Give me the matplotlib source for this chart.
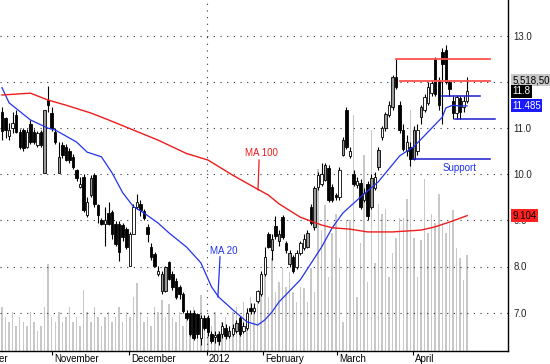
import matplotlib
matplotlib.use("Agg")
import matplotlib.pyplot as plt
from matplotlib.transforms import blended_transform_factory as blend

plt.rcParams['font.family'] = ['Liberation Sans', 'DejaVu Sans']

# daily bars, mid Oct 2011 .. mid Apr 2012 (index = trading day)
opens = [11.35, 11.22, 10.82, 11.00, 11.29, 10.92, 10.96, 10.60, 11.10, 10.92,
         10.63, 10.92, 10.02, 11.61, 11.33, 10.92, 10.02, 10.63, 10.60, 10.50,
         10.38, 10.09, 9.73, 9.94, 9.11, 9.55, 9.98, 9.33, 9.01, 8.93,
         9.15, 9.18, 8.93, 8.93, 8.90, 8.82, 8.02, 8.71, 9.29, 9.36,
         9.20, 8.85, 8.42, 8.28, 7.84, 7.47, 7.47, 8.09, 7.84, 7.69,
         7.55, 7.40, 7.00, 7.00, 7.00, 6.96, 6.45, 6.89, 6.89, 6.53,
         6.47, 6.53, 6.53, 6.67, 6.50, 6.53, 6.60, 6.89, 6.60, 6.67,
         7.11, 7.04, 7.25, 7.40, 7.84, 8.71, 8.35, 8.88, 8.55, 9.08,
         8.50, 8.05, 8.20, 8.00, 8.30, 8.40, 8.42, 9.29, 8.86, 9.72,
         9.80, 9.88, 10.14, 9.72, 9.55, 9.50, 10.42, 11.40, 10.40, 10.00,
         9.77, 9.81, 9.44, 9.80, 9.30, 9.70, 10.16, 10.80, 11.00, 11.29,
         11.46, 12.10, 11.50, 10.96, 10.50, 10.60, 10.33, 10.50, 11.24, 11.40,
         11.55, 11.76, 12.50, 12.05, 12.65, 12.70, 12.00, 11.60, 11.33, 11.65,
         11.45, 11.60]
highs = [11.45, 11.25, 11.11, 11.36, 11.40, 10.98, 11.00, 10.98, 11.18, 10.98,
         10.95, 10.96, 11.40, 11.91, 11.45, 11.00, 10.71, 10.70, 10.65, 10.58,
         10.45, 10.12, 9.95, 10.00, 9.50, 9.98, 10.02, 9.36, 9.05, 9.29,
         9.40, 9.22, 8.98, 8.98, 8.95, 8.85, 8.75, 9.35, 9.58, 9.45,
         9.25, 8.93, 8.50, 8.31, 8.02, 7.90, 8.02, 8.13, 7.90, 7.75,
         7.60, 7.45, 7.05, 7.05, 7.05, 7.00, 6.95, 6.95, 6.95, 6.60,
         6.60, 6.60, 6.80, 6.75, 6.70, 6.75, 6.85, 6.92, 6.80, 7.10,
         7.20, 7.20, 7.50, 7.90, 8.42, 8.75, 8.70, 9.10, 8.80, 9.12,
         8.55, 8.35, 8.25, 8.35, 8.55, 8.70, 8.80, 9.35, 9.75, 10.05,
         10.25, 10.25, 10.20, 9.80, 9.60, 10.15, 10.80, 11.45, 10.60, 10.10,
         9.95, 9.90, 9.70, 9.85, 10.00, 10.05, 10.60, 11.05, 11.35, 11.60,
         12.15, 12.50, 11.60, 11.10, 10.85, 10.70, 11.05, 11.10, 11.50, 11.75,
         12.00, 12.05, 12.55, 12.10, 12.75, 12.80, 12.05, 11.70, 11.72, 11.70,
         11.70, 12.10]
lows = [10.75, 10.78, 10.74, 10.89, 10.89, 10.55, 10.50, 10.56, 10.65, 10.65,
        10.60, 10.60, 10.02, 11.35, 10.95, 10.65, 10.02, 10.35, 10.28, 10.25,
        10.12, 9.85, 9.70, 9.18, 9.08, 9.50, 9.30, 8.95, 8.90, 8.45,
        8.90, 8.60, 8.45, 8.13, 8.55, 8.38, 8.02, 8.70, 9.25, 9.10,
        9.00, 8.53, 8.15, 7.98, 7.80, 7.40, 7.45, 7.70, 7.50, 7.30,
        7.30, 7.00, 6.85, 6.50, 6.40, 6.45, 6.30, 6.62, 6.50, 6.33,
        6.35, 6.30, 6.45, 6.42, 6.45, 6.50, 6.55, 6.50, 6.55, 6.62,
        6.98, 7.00, 7.20, 7.35, 7.80, 8.40, 8.15, 8.60, 8.45, 8.60,
        8.30, 8.00, 7.85, 7.95, 8.25, 8.35, 8.40, 8.90, 8.80, 9.65,
        9.75, 9.85, 9.40, 9.40, 9.45, 9.45, 10.40, 10.55, 10.35, 9.75,
        9.70, 9.25, 9.40, 9.00, 9.25, 9.65, 10.10, 10.75, 10.95, 11.25,
        11.40, 11.85, 10.90, 10.50, 10.40, 10.17, 10.30, 10.42, 11.10, 11.35,
        11.50, 11.70, 11.70, 11.40, 11.10, 11.95, 11.70, 11.20, 11.20, 11.20,
        11.35, 11.55]
closes = [10.95, 10.96, 10.96, 11.11, 10.92, 10.60, 10.56, 10.92, 10.71, 10.71,
          10.89, 10.63, 11.40, 11.50, 11.00, 10.71, 10.38, 10.42, 10.31, 10.30,
          10.16, 9.91, 9.80, 9.22, 9.40, 9.91, 9.36, 9.11, 8.93, 9.01,
          8.93, 8.71, 8.49, 8.31, 8.64, 8.42, 8.71, 9.29, 9.40, 9.22,
          9.05, 8.71, 8.20, 8.02, 7.91, 7.84, 7.98, 7.73, 7.55, 7.33,
          7.40, 7.04, 6.89, 6.53, 6.45, 6.53, 6.89, 6.67, 6.57, 6.38,
          6.51, 6.38, 6.71, 6.49, 6.60, 6.67, 6.78, 6.53, 6.71, 7.00,
          7.04, 7.11, 7.47, 7.84, 8.20, 8.42, 8.60, 8.67, 8.70, 8.64,
          8.36, 8.30, 7.90, 8.30, 8.50, 8.60, 8.73, 8.94, 9.70, 9.98,
          10.00, 10.20, 9.44, 9.44, 9.50, 10.10, 10.74, 10.60, 10.50, 9.80,
          9.86, 9.29, 9.60, 9.10, 9.92, 9.95, 10.53, 11.00, 11.30, 11.50,
          12.10, 11.90, 10.96, 10.55, 10.70, 10.33, 10.96, 10.96, 11.46, 11.68,
          11.90, 11.98, 11.75, 11.50, 12.40, 12.00, 11.85, 11.33, 11.68, 11.35,
          11.60, 11.80]
# w = white (up), k = black (down), g = grey
kinds = list("kkwwkkkwkk" "wkgkkkgkkk" "kkwkwgkkkw" "kkkkkkwwwk"
             "kkkkwggkkk" "kkkkkkwkkk" "wkwkgwgkww" "kwwwwkgkgk"
             "kgkwwwgkgw" "wgkkkwgkwk" "wkwkgwgwgw" "gkkkwkgwgw"
             "wwkkkkkkwk" "ww")
volume_m = [0.9, 0.7, 0.6, 0.8, 0.5, 0.7, 0.6, 0.5, 0.8, 0.6, 0.4, 0.5,
            0.9, 1.77, 0.7, 0.6, 0.8, 0.6, 0.7, 0.9, 0.6, 0.7, 0.5,
            1.24, 0.8, 0.6, 0.9, 0.7, 0.5, 0.7, 0.8, 0.6, 0.7, 0.9, 0.6, 0.8, 0.7,
            1.1, 1.38, 0.8, 0.6, 0.7, 0.5, 0.9, 0.8,
            1.04, 0.7, 0.95, 0.7, 0.6, 0.8, 0.5, 0.7, 0.6, 0.9, 0.7,
            1.14, 0.6, 0.7, 0.5, 0.8, 0.4, 0.6, 0.7, 0.5, 0.8, 0.9, 0.7, 1.0, 0.8, 1.1,
            0.9, 1.2, 1.3, 1.59, 1.1, 1.9, 1.2,
            1.4, 1.7, 1.3, 1.6, 1.2, 1.0, 1.3,
            1.28, 1.0, 1.7, 1.2, 3.7, 2.46, 2.97, 1.5, 2.4, 2.8, 1.9,
            0.6, 2.67, 2.67, 4.8, 1.1, 2.2, 4.0, 1.4, 4.5, 1.8, 3.0, 2.8, 2.9, 1.5, 2.0,
            2.3, 2.7, 2.7, 3.1, 4.9, 2.3, 1.5, 2.26, 3.5, 2.4, 2.8, 2.6, 3.2, 2.6,
            2.4, 2.6, 2.87, 2.1, 1.9, 1.45, 1.95]

# moving averages
ma20_idx = [0, 2, 8, 13, 15, 21, 24, 28, 31, 34, 37, 40, 44, 47, 52, 56, 59, 61, 65,
            69, 72, 74, 76, 78, 84, 90, 93, 96, 101, 106, 112, 116, 121, 124, 125,
            127, 129, 131]
ma20_val = [11.88, 11.55, 11.18, 11.0, 10.96, 10.7, 10.48, 10.38, 10.03, 9.6, 9.3,
            9.16, 8.94, 8.73, 8.42, 8.08, 7.56, 7.34, 7.06, 6.8, 6.73, 6.84, 7.01,
            7.23, 7.71, 8.42, 8.84, 9.16, 9.51, 9.84, 10.4, 10.6, 11.0, 11.24, 11.44,
            11.5, 11.48, 11.485]
ma100_idx = [0, 8, 13, 18, 25, 30, 37, 44, 52, 58, 65, 71, 75, 78, 84, 90, 93, 98,
             103, 110, 118, 122, 127, 131]
ma100_val = [11.72, 11.76, 11.61, 11.5, 11.33, 11.18, 10.96, 10.74, 10.45, 10.31,
             9.98, 9.72, 9.55, 9.36, 9.07, 8.9, 8.84, 8.81, 8.75, 8.75, 8.79, 8.86,
             8.99, 9.104]

month_names = ["October", "November", "December", "2012", "February", "March", "April"]
month_pos = [-8.6, 14.1, 35.8, 57.7, 73.5, 94.4, 115.8]

# drawn lines: (start idx, end idx, price)
resist_lines = [(111, 137.5, 12.5), (112, 137.5, 12.02)]
blue_lines = [(124, 134.6, 11.7), (127.6, 138.9, 11.2), (115.8, 137.5, 10.33)]

price_ticks = [7.0, 8.0, 9.0, 10.0, 11.0, 12.0, 13.0]

fig = plt.figure(figsize=(5.5, 3.64), dpi=100)
ax = fig.add_axes([0, 13 / 364, 508 / 550, 351 / 364])
axv = ax.twinx()
ax.set_zorder(2)
ax.patch.set_visible(False)

n = len(closes)
xs = list(range(n))

# volume in background
axv.bar(xs, volume_m, width=0.42, color="#c8c8c8", linewidth=0)
axv.set_ylim(0, 7.148)
axv.set_yticks([])
for s in axv.spines.values():
    s.set_visible(False)

# grid
for p in price_ticks:
    ax.axhline(p, color="#333333", lw=0.8, ls=(0, (1, 5)), zorder=0.5)
ax.axvline(month_pos[3], color="#333333", lw=0.8, ls=(0, (1, 5)), zorder=0.5)

# candles
fills = {"w": "white", "k": "black", "g": "#9a9a9a"}
ax.vlines(xs, lows, highs, color="black", lw=0.8, zorder=2)
bottoms = [min(o, c) for o, c in zip(opens, closes)]
heights = [max(abs(c - o), 0.02) for o, c in zip(opens, closes)]
ax.bar(xs, heights, bottom=bottoms, width=0.7,
       color=[fills[k] for k in kinds], edgecolor="black", linewidth=0.6, zorder=3)

ax.plot(ma20_idx, ma20_val, color="#2233ee", lw=0.9, zorder=4)
ax.plot(ma100_idx, ma100_val, color="#ee1c1c", lw=1.0, zorder=4)

for x0, x1, y in resist_lines:
    ax.plot([x0, x1], [y, y], color="#ff5050", lw=1.3, zorder=4)
for x0, x1, y in blue_lines:
    ax.plot([x0, x1], [y, y], color="#1a1acc", lw=1.1, zorder=4)

ax.text(73.2, 10.46, "MA 100", color="#ee1c1c", fontsize=7, ha="center", va="center")
ax.plot([72.4, 72.1], [10.31, 9.66], color="#ee1c1c", lw=0.9)
ax.text(62.5, 8.34, "MA 20", color="#2233ee", fontsize=7, ha="center", va="center")
ax.plot([61.4, 60.8], [8.21, 7.34], color="#2233ee", lw=0.9)
ax.text(129, 10.14, "Support", color="#2233ee", fontsize=7, ha="center", va="center")

ax.set_xlim(-0.56, 142.5)
ax.set_ylim(13 - 315 / 46.1, 13 + 36 / 46.1)

ax.yaxis.tick_right()
ax.set_yticks(price_ticks)
ax.set_yticklabels([f"{p:.1f}" for p in price_ticks])
ax.tick_params(axis="y", length=0, pad=4, labelsize=7, labelcolor="#222222")
ax.set_xticks(month_pos[1:])
ax.set_xticklabels([])
ax.tick_params(axis="x", length=3, width=0.8, direction="out")
for s in ["top", "left"]:
    ax.spines[s].set_visible(False)
ax.spines["right"].set_linewidth(1.0)
ax.spines["bottom"].set_linewidth(1.0)

tx = blend(ax.transData, ax.transAxes)
for name, pos in zip(month_names, month_pos):
    ax.text(pos + 0.5, -0.008, name, transform=tx, fontsize=7, ha="left", va="top",
            clip_on=False)

# last value boxes on the right
ty = blend(ax.transAxes, ax.transData)
tyv = blend(ax.transAxes, axv.transData)
ax.text(1.008, volume_m[-1] * 0 + 5.5185, "5,518,500", transform=tyv, fontsize=7,
        va="center", ha="left", clip_on=False,
        bbox=dict(boxstyle="square,pad=0.15", fc="#c8c8c8", ec="none"))
ax.text(1.008, closes[-1], f"{closes[-1]:.1f}", transform=ty, fontsize=7, color="white",
        va="center", ha="left", clip_on=False,
        bbox=dict(boxstyle="square,pad=0.15", fc="black", ec="none"))
ax.text(1.008, ma20_val[-1], f"{ma20_val[-1]:.3f}", transform=ty, fontsize=7,
        color="white", va="center", ha="left", clip_on=False,
        bbox=dict(boxstyle="square,pad=0.15", fc="#1a1aff", ec="none"))
ax.text(1.008, ma100_val[-1], f"{ma100_val[-1]:.3f}", transform=ty, fontsize=7,
        color="black", va="center", ha="left", clip_on=False,
        bbox=dict(boxstyle="square,pad=0.15", fc="#ff2020", ec="none"))

fig.savefig("out.png", dpi=100)
